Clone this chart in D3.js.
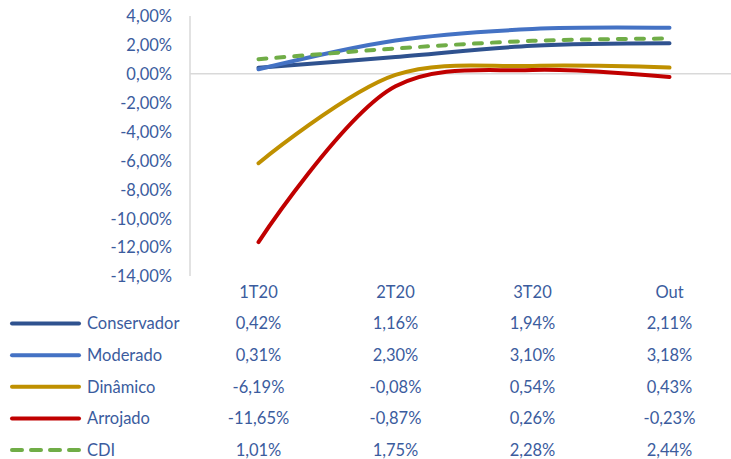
<!DOCTYPE html>
<html>
<head>
<meta charset="utf-8">
<script src="https://cdn.jsdelivr.net/npm/d3@7"></script>
<style>
  html, body { margin: 0; padding: 0; background: #fff; }
  svg { display: block; }
  text { font-family: Lato, "Open Sans", sans-serif; fill: #3B5C9E; }
</style>
</head>
<body>
<svg id="chart" width="731" height="459"></svg>
<script>
// Quarterly returns (%) by profile
const categories = ["1T20", "2T20", "3T20", "Out"];
const conservador = [0.42, 1.16, 1.94, 2.11];
const moderado = [0.31, 2.30, 3.10, 3.18];
const dinamico = [-6.19, -0.08, 0.54, 0.43];
const arrojado = [-11.65, -0.87, 0.26, -0.23];
const cdi = [1.01, 1.75, 2.28, 2.44];
const yTicks = [4, 2, 0, -2, -4, -6, -8, -10, -12, -14];

const seriesList = [
  { name: "Conservador", values: conservador, color: "#2F528F", dash: null },
  { name: "Moderado", values: moderado, color: "#4472C4", dash: null },
  { name: "Dinâmico", values: dinamico, color: "#BF9000", dash: null },
  { name: "Arrojado", values: arrojado, color: "#C00000", dash: null },
  { name: "CDI", values: cdi, color: "#70AD47", dash: "8,10" }
];

const fmt = v => v.toFixed(2).replace(".", ",") + "%";
const fontSize = "16.5px";

const svg = d3.select("#chart");
const plotLeft = 190, bandW = 137, plotTop = 16, plotBottom = 276;

const x = d3.scaleBand().domain(categories)
  .range([plotLeft, plotLeft + bandW * categories.length]).padding(0);
const xc = c => x(c) + x.bandwidth() / 2;
const y = d3.scaleLinear().domain([-14, 4]).range([plotBottom, plotTop]);

// Y axis labels
const yAxis = d3.axisLeft(y).tickValues(yTicks).tickFormat(fmt).tickSize(0).tickPadding(18);
const gy = svg.append("g").attr("transform", `translate(${plotLeft},0)`).call(yAxis);
gy.select(".domain").remove();
gy.selectAll("text").style("font-size", fontSize).attr("dy", "0.35em");

// Vertical axis line
svg.append("line")
  .attr("x1", plotLeft).attr("x2", plotLeft)
  .attr("y1", plotTop).attr("y2", plotBottom)
  .attr("stroke", "#D9D9D9").attr("stroke-width", 1.5);

// Horizontal zero line
svg.append("line")
  .attr("x1", plotLeft).attr("x2", 731)
  .attr("y1", y(0)).attr("y2", y(0))
  .attr("stroke", "#D9D9D9").attr("stroke-width", 1.5);

// Smoothed series lines
const line = d3.line()
  .x((d, i) => xc(categories[i]))
  .y(d => y(d))
  .curve(d3.curveCatmullRom.alpha(0.5));

svg.append("g").selectAll("path")
  .data(seriesList)
  .join("path")
  .attr("d", s => line(s.values))
  .attr("fill", "none")
  .attr("stroke", s => s.color)
  .attr("stroke-width", 4)
  .attr("stroke-linecap", "round")
  .attr("stroke-dasharray", s => s.dash);

// Data table: header row
const rowY0 = 292, rowStep = 31.6;
svg.append("g").selectAll("text")
  .data(categories)
  .join("text")
  .attr("x", c => xc(c))
  .attr("y", rowY0)
  .attr("dy", "0.35em")
  .attr("text-anchor", "middle")
  .style("font-size", fontSize)
  .text(c => c);

// Data table: one row per series with legend key
const rows = svg.append("g").selectAll("g")
  .data(seriesList)
  .join("g")
  .attr("transform", (s, i) => `translate(0,${rowY0 + rowStep * (i + 1)})`);

rows.append("line")
  .attr("x1", 12).attr("x2", 79)
  .attr("y1", 0).attr("y2", 0)
  .attr("stroke", s => s.color)
  .attr("stroke-width", 4)
  .attr("stroke-linecap", "round")
  .attr("stroke-dasharray", s => s.dash ? "10,9" : null);

rows.append("text")
  .attr("x", 87).attr("y", 0).attr("dy", "0.35em")
  .style("font-size", fontSize)
  .text(s => s.name);

rows.selectAll("text.val")
  .data(s => s.values.map((v, i) => ({ v, c: categories[i] })))
  .join("text")
  .attr("class", "val")
  .attr("x", d => xc(d.c))
  .attr("y", 0).attr("dy", "0.35em")
  .attr("text-anchor", "middle")
  .style("font-size", fontSize)
  .text(d => fmt(d.v));
</script>
</body>
</html>
